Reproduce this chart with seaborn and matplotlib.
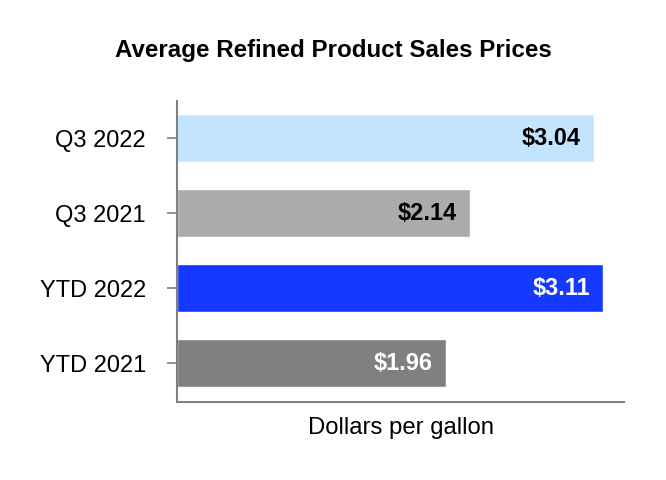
import matplotlib
matplotlib.use("Agg")
import matplotlib.pyplot as plt
import seaborn as sns
import pandas as pd

categories = ["Q3 2022", "Q3 2021", "YTD 2022", "YTD 2021"]
prices = [3.04, 2.14, 3.11, 1.96]
labels = ["$3.04", "$2.14", "$3.11", "$1.96"]
bar_colors = ["#C2E4FF", "#ABABAB", "#1539FF", "#808080"]
label_colors = ["black", "black", "white", "white"]

sns.set_theme(style="white")
plt.rcParams["font.family"] = ["Liberation Sans", "DejaVu Sans"]

df = pd.DataFrame({"category": categories, "price": prices})

fig = plt.figure(figsize=(6.66, 4.8), dpi=100)
ax = fig.add_axes([177 / 666, 1 - 402 / 480, (624 - 177) / 666, (402 - 101) / 480])

sns.barplot(data=df, y="category", x="price", hue="category", order=categories,
            hue_order=categories, palette=bar_colors, width=0.64, orient="h",
            legend=False, ax=ax, saturation=1)

for i, (v, lab, c) in enumerate(zip(prices, labels, label_colors)):
    ax.annotate(lab, xy=(v, i), xytext=(-9.5, 0), textcoords="offset points",
                ha="right", va="center", fontsize=16.9, fontweight="bold", color=c)

ax.set_xlim(0, 3.26)
ax.set_ylim(3.52, -0.5)
ax.set_xticks([])
ax.set_ylabel("")
ax.set_xlabel("Dollars per gallon", fontsize=17.2, labelpad=11, color="black")
ax.tick_params(axis="y", left=True, length=7.5, width=1.2, color="#808080",
               pad=15, labelsize=17, labelcolor="black")
for s in ["top", "right"]:
    ax.spines[s].set_visible(False)
for s in ["left", "bottom"]:
    ax.spines[s].set_color("#808080")
    ax.spines[s].set_linewidth(1.5)

fig.text(0.5, 1 - 51 / 480, "Average Refined Product Sales Prices", ha="center",
         va="center", fontsize=17.4, fontweight="bold", color="black")

fig.savefig("out.png", dpi=100, facecolor="white")
